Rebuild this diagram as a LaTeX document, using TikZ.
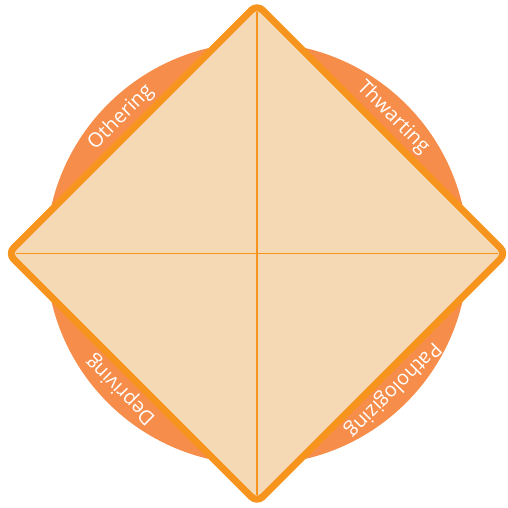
\documentclass[tikz,border=0pt]{standalone}
\usepackage{fontspec}
\newfontfamily\labelfont{Open Sans}
\usepackage{xcolor}
\definecolor{cRing}{HTML}{F68D4A}
\definecolor{cEdge}{HTML}{F7941D}
\definecolor{cFill}{HTML}{F5D9B5}
\usepackage{tikz}
\usetikzlibrary{positioning,calc}
\tikzset{
  ring-disc/.style={fill=cRing,draw=none},
  diamond-box/.style={draw=cEdge,fill=cFill,line width=3.5pt,
    rounded corners=4pt,line join=round},
  split-line/.style={draw=cEdge,line width=0.8pt,shorten <=4pt,shorten >=4pt},
  seg-label/.style={text=white,inner sep=0pt,
    font=\labelfont\fontsize{10}{12}\selectfont},
}

\begin{document}
\begin{tikzpicture}[x=0.5pt,y=0.5pt]
  \useasboundingbox (-257,-254.5) rectangle (251,253.5);
  \coordinate (o) at (0,0);
  \fill[ring-disc] (o) circle[radius=211];
  % diamond corners
  \coordinate (t) at (0,249);
  \coordinate (r) at (249,0);
  \coordinate (b) at (0,-249);
  \coordinate (l) at (-249,0);
  \draw[diamond-box] (t) -- (r) -- (b) -- (l) -- cycle;
  \draw[split-line] (t) -- (b);
  \draw[split-line] (l) -- (r);
  \node[seg-label,rotate=45]   (oth) at (-136,136) {Othering};
  \node[seg-label,rotate=-45]  (thw) at (136,136)  {Thwarting};
  \node[seg-label,rotate=135]  (dep) at (-136,-136) {Depriving};
  \node[seg-label,rotate=-135] (pat) at (136,-136) {Pathologizing};
\end{tikzpicture}
\end{document}
